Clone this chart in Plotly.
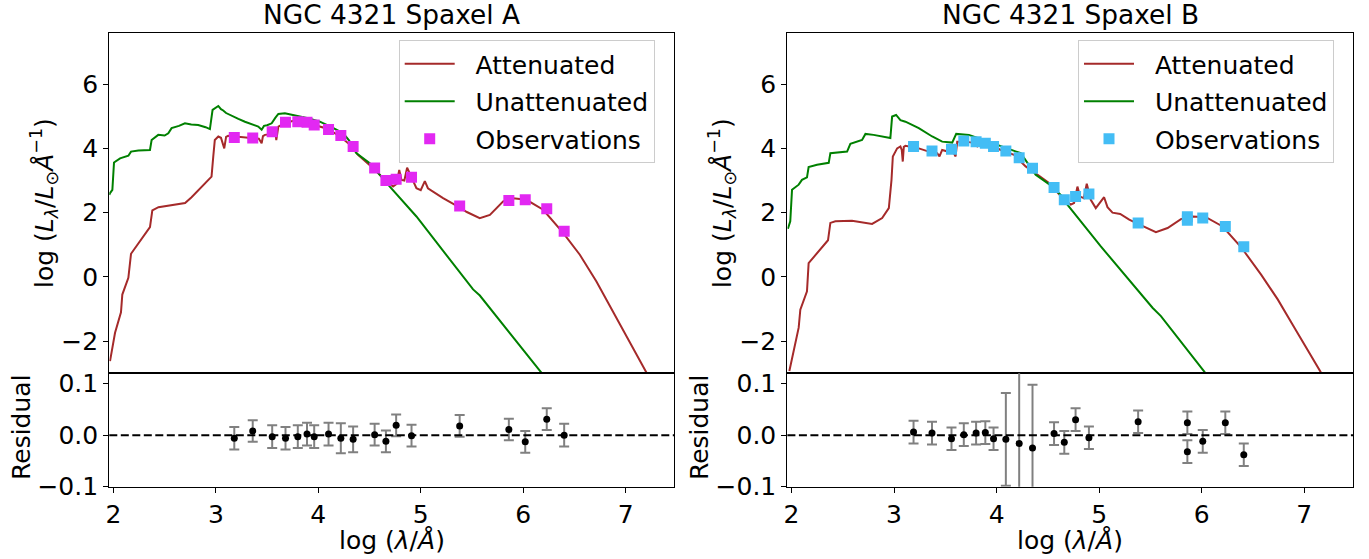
import plotly.graph_objects as go

# ---------------- data ----------------
# Spaxel A model curves (log lambda, log L)
a_att_x = [1.967, 2.016, 2.074, 2.087, 2.146, 2.172, 2.357, 2.380, 2.44, 2.70, 2.763, 2.861, 2.958, 2.975,
           2.99, 3.024, 3.05, 3.082, 3.10, 3.12, 3.20, 3.30, 3.35, 3.42, 3.447, 3.46, 3.479, 3.55, 3.585,
           3.59, 3.61, 3.68, 3.75, 3.82, 3.88, 3.934, 3.96, 4.08, 4.21, 4.31, 4.39, 4.536, 4.666, 4.73,
           4.764, 4.79, 4.812, 4.84, 4.867, 4.91, 4.958, 5.0, 5.04, 5.07, 5.186, 5.218, 5.365, 5.45, 5.576,
           5.675, 5.805, 5.902, 6.032, 6.195, 6.39, 6.553, 6.715, 6.878, 7.04, 7.203, 7.25]
a_att_y = [-2.62, -1.74, -1.10, -0.55, -0.03, 0.72, 1.55, 2.07, 2.17, 2.30, 2.48, 2.81, 3.12, 3.75,
           4.26, 4.37, 4.33, 4.00, 4.36, 4.39, 4.37, 4.34, 4.32, 4.30, 4.16, 4.38, 4.42, 4.45, 4.40,
           4.26, 4.68, 4.80, 4.85, 4.87, 4.82, 4.70, 4.73, 4.62, 4.38, 4.11, 3.79, 3.38, 2.97, 2.81,
           2.89, 3.33, 3.02, 3.00, 3.40, 3.07, 2.76, 2.70, 2.98, 2.76, 2.50, 2.45, 2.19, 2.02, 1.83,
           1.93, 2.35, 2.45, 2.40, 2.09, 1.37, 0.69, -0.14, -1.07, -2.00, -2.95, -3.25]
a_unatt_x = [1.96, 1.967, 1.99, 2.006, 2.065, 2.146, 2.172, 2.244, 2.357, 2.373, 2.438, 2.50, 2.536, 2.568,
             2.64, 2.698, 2.76, 2.828, 2.90, 2.942, 2.968, 3.0, 3.024, 3.05, 3.072, 3.10, 3.153, 3.22,
             3.284, 3.35, 3.414, 3.447, 3.47, 3.50, 3.545, 3.58, 3.61, 3.674, 3.75, 3.82, 3.90, 4.015,
             4.13, 4.243, 4.30, 4.373, 4.503, 4.60, 4.698, 4.958, 5.218, 5.511, 5.577, 5.902, 6.179, 6.22]
a_unatt_y = [2.55, 2.61, 2.71, 3.56, 3.69, 3.77, 3.90, 3.93, 3.95, 4.26, 4.42, 4.40, 4.47, 4.63,
             4.70, 4.78, 4.74, 4.73, 4.66, 4.60, 5.20, 5.28, 5.32, 5.22, 5.18, 5.10, 5.01, 4.92,
             4.83, 4.75, 4.68, 4.58, 4.70, 4.72, 4.78, 4.95, 5.07, 5.09, 5.05, 4.99, 4.94, 4.83,
             4.66, 4.47, 4.25, 3.85, 3.54, 3.17, 2.81, 1.88, 0.82, -0.39, -0.58, -1.86, -2.95, -3.15]
a_obs_x = [3.18, 3.36, 3.55, 3.68, 3.80, 3.89, 3.96, 4.10, 4.22, 4.34, 4.55, 4.66, 4.76, 4.91,
           5.38, 5.86, 6.02, 6.23, 6.40]
a_obs_y = [4.34, 4.32, 4.52, 4.81, 4.83, 4.81, 4.73, 4.59, 4.40, 4.06, 3.39, 3.00, 3.04, 3.10,
           2.21, 2.38, 2.40, 2.12, 1.42]
a_res = [-0.006, 0.008, -0.003, -0.006, -0.003, 0.002, -0.003, 0.002, -0.006, -0.008, 0.001, -0.012,
         0.019, -0.001, 0.018, 0.011, -0.013, 0.031, 0.000]
a_err = [0.022, 0.021, 0.022, 0.022, 0.022, 0.022, 0.022, 0.022, 0.029, 0.025, 0.021, 0.021,
         0.021, 0.021, 0.021, 0.021, 0.021, 0.021, 0.022]

# Spaxel B model curves
b_att_x = [1.979, 2.031, 2.07, 2.086, 2.151, 2.167, 2.30, 2.356, 2.379, 2.428, 2.59, 2.70, 2.786, 2.884,
           2.949, 2.975, 2.988, 3.03, 3.062, 3.075, 3.085, 3.095, 3.111, 3.241, 3.339, 3.42, 3.443, 3.469,
           3.583, 3.60, 3.616, 3.697, 3.76, 3.811, 3.844, 3.925, 4.04, 4.17, 4.283, 4.414, 4.511, 4.658,
           4.723, 4.755, 4.788, 4.814, 4.85, 4.879, 4.918, 4.967, 5.048, 5.081, 5.13, 5.205, 5.293, 5.374,
           5.553, 5.667, 5.797, 5.911, 6.041, 6.204, 6.383, 6.579, 6.741, 6.904, 7.067, 7.158, 7.2]
b_att_y = [-2.93, -2.15, -1.58, -1.02, -0.45, 0.43, 0.95, 1.14, 1.68, 1.73, 1.75, 1.70, 1.65, 1.83,
           2.14, 3.02, 3.75, 4.00, 4.06, 3.95, 3.59, 4.05, 4.08, 4.00, 3.90, 3.85, 3.75, 3.95,
           3.85, 3.75, 4.21, 4.21, 4.18, 4.06, 4.21, 4.14, 3.95, 3.80, 3.44, 3.15, 2.92, 2.40,
           2.25, 2.30, 2.81, 2.50, 2.45, 2.90, 2.40, 2.14, 2.48, 2.17, 2.00, 1.96, 1.78, 1.66,
           1.39, 1.52, 1.80, 1.88, 1.86, 1.57, 0.93, 0.07, -0.70, -1.58, -2.46, -2.95, -3.30]
b_unatt_x = [1.965, 1.972, 1.988, 2.005, 2.07, 2.102, 2.151, 2.167, 2.249, 2.363, 2.379, 2.542, 2.574,
             2.688, 2.721, 2.80, 2.916, 2.964, 2.981, 3.02, 3.062, 3.111, 3.241, 3.372, 3.469, 3.567,
             3.606, 3.73, 3.80, 3.90, 4.007, 4.235, 4.332, 4.381, 4.528, 4.642, 4.69, 5.016, 5.52, 5.602,
             6.025, 6.06]
b_unatt_y = [1.50, 1.57, 1.73, 2.71, 2.87, 3.02, 3.10, 3.42, 3.49, 3.55, 3.85, 3.90, 4.14,
             4.26, 4.45, 4.42, 4.34, 4.32, 4.99, 5.04, 4.88, 4.83, 4.63, 4.37, 4.21, 4.18,
             4.45, 4.42, 4.34, 4.24, 4.11, 3.85, 3.40, 3.18, 2.85, 2.50, 2.25, 0.95, -0.96, -1.22,
             -2.95, -3.10]
b_obs_x = [3.19, 3.37, 3.56, 3.68, 3.80, 3.89, 3.97, 4.09, 4.22, 4.35, 4.56, 4.66, 4.77, 4.90,
           5.38, 5.86, 5.86, 6.01, 6.23, 6.41]
b_obs_y = [4.06, 3.92, 3.97, 4.23, 4.21, 4.16, 4.06, 3.92, 3.71, 3.38, 2.78, 2.40, 2.50, 2.58,
           1.68, 1.87, 1.76, 1.83, 1.57, 0.94]
b_res = [0.006, 0.004, -0.007, 0.001, 0.004, 0.005, -0.007, -0.008, -0.016, -0.025, 0.003, -0.014,
         0.030, -0.005, 0.026, 0.024, -0.032, -0.012, 0.024, -0.038]
b_err = [0.022, 0.022, 0.022, 0.022, 0.022, 0.022, 0.022, 0.090, 0.160, 0.123, 0.022, 0.022,
         0.022, 0.022, 0.022, 0.022, 0.022, 0.022, 0.022, 0.022]

titles = ["NGC 4321 Spaxel A", "NGC 4321 Spaxel B"]
legend_names = ["Attenuated", "Unattenuated", "Observations"]
main_yticks = [-2, 0, 2, 4, 6]
res_yticks = [-0.1, 0.0, 0.1]
x_ticks = [2, 3, 4, 5, 6, 7]

# ---------------- style ----------------
W, H = 1369, 559
FONT = "DejaVu Sans"
FS = 25
FS_TITLE = 26.4
RED = "#a52a2a"
GREEN = "#008000"
MAG = "#e228f2"
BLUE = "#43bdf5"
XR = [1.96, 7.475]
YR = [-3.0, 7.6]
RR = [-0.1, 0.12]
NB = "\u00a0\u00a0"

def px(v):
    return v / W

def py(v):
    return 1 - v / H

dom_l = [px(109.3), px(674.3)]
dom_r = [px(787.4), px(1353.0)]
dom_top = [py(373.3), py(32.7)]
dom_res = [py(486.7), py(373.3)]

fig = go.Figure()

panels = [
    dict(att=(a_att_x, a_att_y), un=(a_unatt_x, a_unatt_y), obs=(a_obs_x, a_obs_y), res=a_res, err=a_err,
         color=MAG, xa="x", ya="y", xr="x2", yr="y2", leg="legend"),
    dict(att=(b_att_x, b_att_y), un=(b_unatt_x, b_unatt_y), obs=(b_obs_x, b_obs_y), res=b_res, err=b_err,
         color=BLUE, xa="x3", ya="y3", xr="x4", yr="y4", leg="legend2"),
]

for p in panels:
    fig.add_trace(go.Scatter(x=p["att"][0], y=p["att"][1], mode="lines", name=NB + legend_names[0],
                             line=dict(color=RED, width=2), xaxis=p["xa"], yaxis=p["ya"],
                             legend=p["leg"], legendgroup=p["leg"] + "a"))
    fig.add_trace(go.Scatter(x=p["un"][0], y=p["un"][1], mode="lines", name=NB + legend_names[1],
                             line=dict(color=GREEN, width=2), xaxis=p["xa"], yaxis=p["ya"],
                             legend=p["leg"], legendgroup=p["leg"] + "b"))
    fig.add_trace(go.Scatter(x=p["obs"][0], y=p["obs"][1], mode="markers", name=NB + legend_names[2],
                             marker=dict(symbol="square", size=11, color=p["color"]),
                             error_y=dict(type="data", array=p["err"], color=p["color"], thickness=2, width=0),
                             xaxis=p["xa"], yaxis=p["ya"], legend=p["leg"], legendgroup=p["leg"] + "c"))
    fig.add_trace(go.Scatter(x=p["obs"][0], y=p["res"], mode="markers", showlegend=False,
                             marker=dict(symbol="circle", size=7, color="black"),
                             error_y=dict(type="data", array=p["err"], color="#808080", thickness=2, width=5),
                             xaxis=p["xr"], yaxis=p["yr"]))

axis_common = dict(showline=True, linecolor="black", linewidth=1.3, mirror=True, ticks="outside",
                   ticklen=5, tickwidth=1.2, tickcolor="black", showgrid=False, zeroline=False,
                   automargin=False, tickfont=dict(family=FONT, size=FS, color="black"))

title_font = dict(family=FONT, size=FS, color="black")
ylab = "log (<i>L</i><sub><i>λ</i></sub>/<i>L</i><sub>⊙</sub><i>Å</i><sup>−1</sup>)"
xlab = "log (<i>λ</i>/<i>Å</i>)"

layout = dict(template="none", width=W, height=H, margin=dict(l=0, r=0, t=0, b=0, autoexpand=False),
              plot_bgcolor="white", paper_bgcolor="white",
              font=dict(family=FONT, size=FS, color="black"))

for dom, (xa, ya, xr, yr) in zip([dom_l, dom_r], [("xaxis", "yaxis", "xaxis2", "yaxis2"),
                                                  ("xaxis3", "yaxis3", "xaxis4", "yaxis4")]):
    layout[xa] = dict(axis_common, domain=dom, range=XR, anchor=ya.replace("axis", ""), tickvals=x_ticks,
                      showticklabels=False, ticks="")
    layout[ya] = dict(axis_common, domain=dom_top, range=YR, anchor=xa.replace("axis", ""),
                      tickvals=main_yticks)
    layout[xr] = dict(axis_common, domain=dom, range=XR, anchor=yr.replace("axis", ""), tickvals=x_ticks)
    layout[yr] = dict(axis_common, domain=dom_res, range=RR, anchor=xr.replace("axis", ""),
                      tickvals=res_yticks, tickformat=".1f")

legend_common = dict(xanchor="left", yanchor="top", bgcolor="rgba(255,255,255,0.85)",
                     bordercolor="#cccccc", borderwidth=1, font=dict(family=FONT, size=FS, color="black"),
                     tracegroupgap=2, itemwidth=50)
layout["legend"] = dict(legend_common, x=px(398.7), y=py(40))
layout["legend2"] = dict(legend_common, x=px(1078.0), y=py(40))

fig.update_layout(**layout)

for t, dom in zip(titles, [dom_l, dom_r]):
    cx = (dom[0] + dom[1]) / 2
    fig.add_annotation(text=t, x=cx, y=py(14), xref="paper", yref="paper",
                       showarrow=False, xanchor="center", yanchor="middle",
                       font=dict(family=FONT, size=FS_TITLE, color="black"))
    fig.add_annotation(text=xlab, x=cx, y=py(540), xref="paper", yref="paper",
                       showarrow=False, xanchor="center", yanchor="middle", font=title_font)

for x0 in [0, 787.4 - 109.3]:
    fig.add_annotation(text=ylab, x=px(44 + x0), y=py(203), xref="paper", yref="paper", textangle=-90,
                       showarrow=False, xanchor="center", yanchor="middle", font=title_font)
    fig.add_annotation(text="Residual", x=px(21 + x0), y=py(427), xref="paper", yref="paper", textangle=-90,
                       showarrow=False, xanchor="center", yanchor="middle", font=title_font)

for xref, yref in [("x2 domain", "y2"), ("x4 domain", "y4")]:
    fig.add_shape(type="line", xref=xref, yref=yref, x0=0, x1=1, y0=0, y1=0,
                  line=dict(color="black", width=2, dash="8px,3.5px"))

fig.write_html("out.html")
